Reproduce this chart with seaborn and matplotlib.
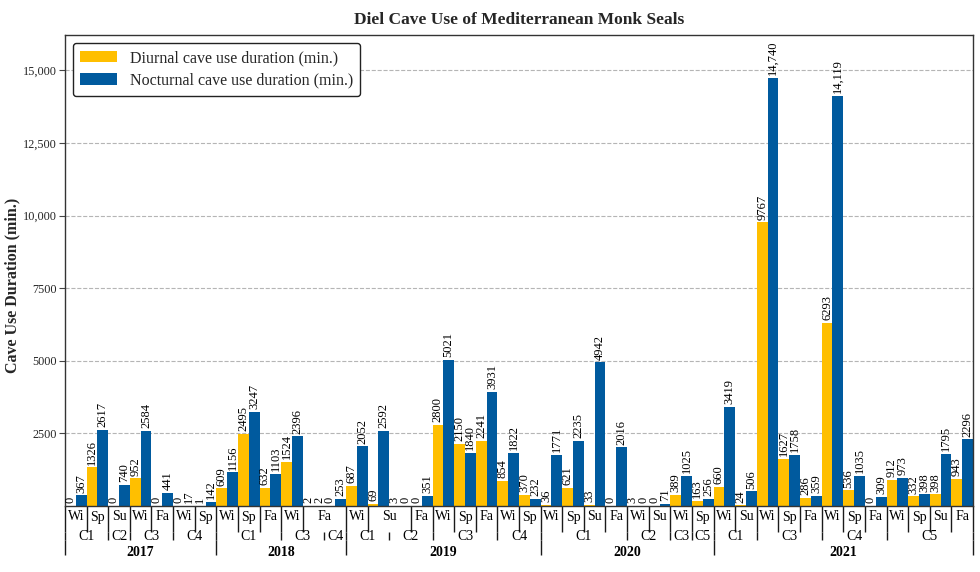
import numpy as np
import pandas as pd
import matplotlib
matplotlib.use('Agg')
import matplotlib.pyplot as plt
import matplotlib.transforms as mtransforms
import seaborn as sns

# ---------------- data ----------------
years = (['2017'] * 7 + ['2018'] * 6 + ['2019'] * 9 + ['2020'] * 8 + ['2021'] * 12)
caves = (['C1', 'C1', 'C2', 'C3', 'C3', 'C4', 'C4'] +
         ['C1', 'C1', 'C1', 'C3', 'C3', 'C4'] +
         ['C1', 'C1', 'C2', 'C2', 'C3', 'C3', 'C3', 'C4', 'C4'] +
         ['C1', 'C1', 'C1', 'C1', 'C2', 'C2', 'C3', 'C5'] +
         ['C1', 'C1', 'C3', 'C3', 'C3', 'C4', 'C4', 'C4', 'C5', 'C5', 'C5', 'C5'])
seasons = (['Wi', 'Sp', 'Su', 'Wi', 'Fa', 'Wi', 'Sp'] +
           ['Wi', 'Sp', 'Fa', 'Wi', 'Fa', 'Fa'] +
           ['Wi', 'Su', 'Su', 'Fa', 'Wi', 'Sp', 'Fa', 'Wi', 'Sp'] +
           ['Wi', 'Sp', 'Su', 'Fa', 'Wi', 'Su', 'Wi', 'Sp'] +
           ['Wi', 'Su', 'Wi', 'Sp', 'Fa', 'Wi', 'Sp', 'Fa', 'Wi', 'Sp', 'Su', 'Fa'])
diurnal = ([0, 1326, 0, 952, 0, 0, 1] +
           [609, 2495, 632, 1524, 2, 0] +
           [687, 69, 3, 0, 2800, 2150, 2241, 854, 370] +
           [36, 621, 33, 0, 3, 0, 389, 163] +
           [660, 24, 9767, 1627, 286, 6293, 536, 0, 912, 332, 398, 943])
nocturnal = ([367, 2617, 740, 2584, 441, 17, 142] +
             [1156, 3247, 1103, 2396, 2, 253] +
             [2052, 2592, 0, 351, 5021, 1840, 3931, 1822, 232] +
             [1771, 2235, 4942, 2016, 0, 71, 1025, 256] +
             [3419, 506, 14740, 1758, 359, 14119, 1035, 309, 973, 398, 1795, 2296])
series_names = ['Diurnal cave use duration (min.)', 'Nocturnal cave use duration (min.)']
yticks = [2500, 5000, 7500, 10000, 12500, 15000]

colors = ['#FFBF00', '#005A9E']


def fmt(v):
    v = int(round(v))
    return f'{v:,}' if v >= 10000 else f'{v}'


# ---------------- style ----------------
sns.set_theme(style='white')
plt.rcParams['font.family'] = ['Liberation Serif', 'DejaVu Serif']

n = len(seasons)
cats = [f'{years[i]}-{caves[i]}-{seasons[i]}-{i}' for i in range(n)]
df = pd.DataFrame({
    'cat': cats * 2,
    'value': diurnal + nocturnal,
    'series': [series_names[0]] * n + [series_names[1]] * n,
})

W, H = 980, 572
fig = plt.figure(figsize=(W / 100, H / 100), dpi=100)
ax_left, ax_right, ax_top, ax_bottom = 65, 973, 35, 506
ax = fig.add_axes([ax_left / W, 1 - ax_bottom / H, (ax_right - ax_left) / W, (ax_bottom - ax_top) / H])

sns.barplot(data=df, x='cat', y='value', hue='series', order=cats, hue_order=series_names,
            palette=colors, width=1.0, saturation=1, errorbar=None, ax=ax,
            edgecolor='none', linewidth=0)

for cont in ax.containers:
    ax.bar_label(cont, labels=[fmt(v) for v in cont.datavalues], rotation=90,
                 padding=2, fontsize=9, color='black')

ax.set_xlim(-0.5, n - 0.5)
ax.set_ylim(0, max(nocturnal) * 1.1)
ax.set_yticks(yticks)
ax.set_yticklabels([fmt(t) for t in yticks])
ax.tick_params(axis='y', left=True, length=4, width=0.8, color='#444', labelsize=8.8, pad=2)
ax.set_xticks([])
ax.set_xlabel('')
ax.set_ylabel('')
ax.yaxis.grid(True, linestyle='--', color='#b5b5b5', linewidth=0.8)
ax.set_axisbelow(True)
for sp in ax.spines.values():
    sp.set_color('#333333')
    sp.set_linewidth(1.0)

handles, labels = ax.get_legend_handles_labels()
ax.legend(handles, labels, loc='upper left', fontsize=11.5, frameon=True, fancybox=True,
          edgecolor='#222222', framealpha=1, handlelength=2.3, handleheight=0.7,
          borderpad=0.45, labelspacing=0.4, borderaxespad=0.5)

# ---------------- multi-level x axis ----------------
trans = mtransforms.blended_transform_factory(ax.transData, ax.transAxes)
axh = ax_bottom - ax_top


def fy(px):
    return -px / axh


levels = [
    ([(years[i], seasons[i]) for i in range(n)], seasons, 0, 26, 11, 10, 'normal'),
    ([(years[i], caves[i]) for i in range(n)], caves, 26, 34, 31, 10, 'normal'),
    ([years[i] for i in range(n)], years, 34, 49, 46, 10, 'bold'),
]
for keys, labs, top, bot, ty, fs, fw in levels:
    groups = []
    start = 0
    for i in range(1, n + 1):
        if i == n or keys[i] != keys[start]:
            groups.append((start, i - 1))
            start = i
    bounds = [g[0] - 0.5 for g in groups] + [groups[-1][1] + 0.5]
    for b in bounds:
        ax.plot([b, b], [fy(top), fy(bot)], transform=trans, color='#1a1a1a',
                linewidth=1.0, clip_on=False, solid_capstyle='butt')
    for s, e in groups:
        ax.text((s + e) / 2, fy(ty), labs[s], transform=trans, ha='center', va='center',
                fontsize=fs, fontweight=fw, color='black', clip_on=False)

fig.text((ax_left + ax_right) / 2 / W, 1 - 20 / H, 'Diel Cave Use of Mediterranean Monk Seals',
         ha='center', va='center', fontsize=12.5, fontweight='bold')
fig.text(12 / W, 1 - 285 / H, 'Cave Use Duration (min.)', rotation=90, ha='center', va='center',
         fontsize=11.5, fontweight='bold')

fig.savefig('out.png', dpi=100)
